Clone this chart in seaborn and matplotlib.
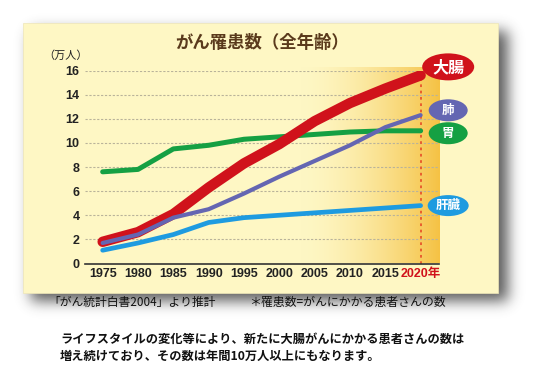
import numpy as np
import pandas as pd
import matplotlib
matplotlib.use('Agg')
import matplotlib.pyplot as plt
from matplotlib.patches import Rectangle, Ellipse
from matplotlib.transforms import ScaledTranslation
import seaborn as sns

# データ (万人)
years = [1975, 1980, 1985, 1990, 1995, 2000, 2005, 2010, 2015, 2020]
daicho = [1.8, 2.6, 4.1, 6.3, 8.3, 9.9, 11.8, 13.3, 14.5, 15.6]
hai = [1.7, 2.4, 3.8, 4.5, 5.8, 7.2, 8.5, 9.8, 11.3, 12.3]
i_ = [7.6, 7.8, 9.5, 9.8, 10.3, 10.5, 10.7, 10.9, 11.0, 11.0]
kanzo = [1.1, 1.7, 2.4, 3.4, 3.8, 4.0, 4.2, 4.4, 4.6, 4.8]
sites = ['大腸', '肺', '胃', '肝臓']
xlabels = ['1975', '1980', '1985', '1990', '1995', '2000', '2005', '2010', '2015', '2020年']

df = pd.DataFrame({'年': years * 4,
                   '患者数': daicho + hai + i_ + kanzo,
                   '部位': np.repeat(sites, len(years))})

colors = {'大腸': '#D0121B', '肺': '#6466B2', '胃': '#15A043', '肝臓': '#1E9BE0'}
widths = {'大腸': 7.5, '肺': 3.0, '胃': 3.6, '肝臓': 3.4}
# ラベル(楕円)の位置ずれと大きさ
label_dy = {'大腸': 0.7, '肺': 0.4, '胃': -0.2, '肝臓': 0.0}
label_fs = {'大腸': 11.5, '肺': 9, '胃': 9, '肝臓': 9}
label_wh = {'大腸': (0.52, 0.27), '肺': (0.39, 0.22), '胃': (0.39, 0.22), '肝臓': (0.41, 0.21)}

sns.set_theme(style='white')
plt.rcParams['font.family'] = ['Noto Sans CJK JP', 'DejaVu Sans']

W, H = 540, 367
fig = plt.figure(figsize=(W / 100, H / 100), dpi=100)
fig.patch.set_facecolor('white')

# 背景パネルと影
bg = fig.add_axes([0, 0, 1, 1])
bg.set_xlim(0, W)
bg.set_ylim(H, 0)
bg.axis('off')
px0, py0, px1, py1 = 23, 23, 498, 293
mask = np.zeros((H, W))
mask[py0 + 8:py1 + 8, px0 + 8:px1 + 10] = 1.0
k = np.exp(-0.5 * (np.arange(-24, 25) / 7.0) ** 2)
k /= k.sum()
blur = np.apply_along_axis(lambda r: np.convolve(r, k, mode='same'), 1, mask)
blur = np.apply_along_axis(lambda c: np.convolve(c, k, mode='same'), 0, blur)
shadow = np.zeros((H, W, 4))
shadow[..., :3] = 0.2
shadow[..., 3] = blur * 0.8
bg.imshow(shadow, extent=[0, W, H, 0], aspect='auto', zorder=0)
bg.add_patch(Rectangle((px0, py0), px1 - px0, py1 - py0, facecolor='#FEF7C4',
                       edgecolor='#EEE6B8', lw=0.5, zorder=1))

bg.text(262, 43, 'がん罹患数（全年齢）', ha='center', va='center', fontsize=12.5,
        fontweight='bold', color='#5A3A1C')
bg.text(66, 56, '（万人）', ha='center', va='center', fontsize=8, color='#222222')
bg.text(48, 302, '「がん統計白書2004」より推計', ha='left', va='center', fontsize=8.5,
        color='#111111')
bg.text(249, 302, '＊罹患数=がんにかかる患者さんの数', ha='left', va='center',
        fontsize=8.6, color='#111111')
bg.text(60, 339, 'ライフスタイルの変化等により、新たに大腸がんにかかる患者さんの数は',
        ha='left', va='center', fontsize=8.8, fontweight='bold', color='#111111')
bg.text(60, 356, '増え続けており、その数は年間10万人以上にもなります。',
        ha='left', va='center', fontsize=8.8, fontweight='bold', color='#111111')

# グラフ
ax = fig.add_axes([85 / W, (H - 263.5) / H, (439 - 85) / W, (263.5 - 70.5) / H])
ax.set_facecolor('none')
ax.set_xlim(1972.5, 2022.6)
ax.set_ylim(0, 16)

# 右側のグラデーション
g0, g1 = 2003, 2022.6
t = np.linspace(0, 1, 200) ** 1.6
c0 = np.array(matplotlib.colors.to_rgb('#FEF7C4'))
c1 = np.array(matplotlib.colors.to_rgb('#F5C244'))
grad = (c0[None, :] * (1 - t[:, None]) + c1[None, :] * t[:, None])[None, :, :]
ax.imshow(grad, extent=[g0, g1, 0, 16.2], aspect='auto', zorder=0.5, clip_on=False)

for yv in range(2, 17, 2):
    ax.axhline(yv, color='#B9B39A', lw=0.8, ls=(0, (2, 1.5)), zorder=1)

ax.vlines(years[-1], 0, daicho[-1], colors='#E8552A', lw=1.3, ls=(0, (1.5, 2)), zorder=1.5)

order = {'肝臓': 3, '胃': 3.1, '大腸': 3.2, '肺': 3.3}
for s in ['肝臓', '胃', '大腸', '肺']:
    sns.lineplot(data=df[df['部位'] == s], x='年', y='患者数', ax=ax, color=colors[s],
                 lw=widths[s], solid_capstyle='round', solid_joinstyle='round',
                 zorder=order[s], legend=False)

last = {'大腸': daicho[-1], '肺': hai[-1], '胃': i_[-1], '肝臓': kanzo[-1]}
for s in sites:
    xy = (2023.9, last[s] + label_dy[s])
    tr = fig.dpi_scale_trans + ScaledTranslation(xy[0], xy[1], ax.transData)
    w, h = label_wh[s]
    ax.add_patch(Ellipse((0, 0), w, h, transform=tr, facecolor=colors[s],
                         edgecolor='none', clip_on=False, zorder=5))
    ax.text(xy[0], xy[1], s, ha='center', va='center', fontsize=label_fs[s],
            fontweight='bold', color='white', clip_on=False, zorder=6)

ax.set_xticks(years)
ax.set_xticklabels(xlabels)
ax.set_yticks(range(0, 17, 2))
ax.set_xlabel('')
ax.set_ylabel('')
for sp in ['top', 'right', 'left']:
    ax.spines[sp].set_visible(False)
ax.spines['bottom'].set_color('#333333')
ax.spines['bottom'].set_linewidth(1.2)
ax.tick_params(axis='x', direction='in', length=3, color='#999999', pad=3.5,
               labelcolor='#222222')
ax.tick_params(axis='y', length=0, pad=4, labelcolor='#222222')
for lab in ax.get_xticklabels() + ax.get_yticklabels():
    lab.set_fontweight('bold')
    lab.set_fontsize(9)
    lab.set_family(['Liberation Sans', 'Noto Sans CJK JP'])
ax.get_xticklabels()[-1].set_color('#D0121B')

fig.savefig('out.png', dpi=100)
